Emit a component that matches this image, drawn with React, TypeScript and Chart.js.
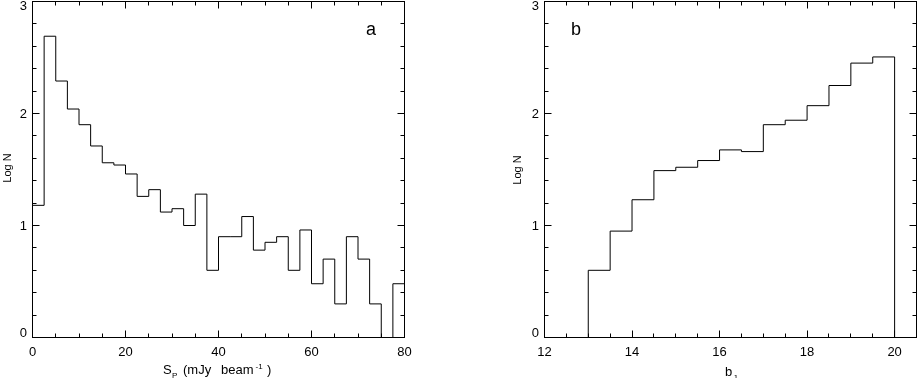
import React, { useEffect, useRef } from 'react';
import { Chart, registerables } from 'chart.js';

Chart.register(...registerables);

const FONT = '"Liberation Sans", Arial, Helvetica, sans-serif';

// Panel a: peak flux histogram (bin edges in mJy/beam, log N per bin)
const fluxBinEdges = [0, 2.5, 5, 7.5, 10, 12.5, 15, 17.5, 20, 22.5, 25, 27.5, 30, 32.5, 35, 37.5, 40, 42.5, 45, 47.5, 50, 52.5, 55, 57.5, 60, 62.5, 65, 67.5, 70, 72.5, 75, 77.5, 80];
const fluxLogN = [1.18, 2.69, 2.29, 2.04, 1.9, 1.71, 1.56, 1.54, 1.46, 1.26, 1.32, 1.12, 1.15, 1.0, 1.28, 0.6, 0.9, 0.9, 1.08, 0.78, 0.85, 0.9, 0.6, 0.96, 0.48, 0.7, 0.3, 0.9, 0.7, 0.3, 0, 0.48];
const fluxMajorTicks = [0, 20, 40, 60, 80];
const fluxMinorStep = 5;

// Panel b: b_J magnitude histogram
const magBinEdges = [13, 13.5, 14, 14.5, 15, 15.5, 16, 16.5, 17, 17.5, 18, 18.5, 19, 19.5, 20];
const magLogN = [0.6, 0.95, 1.23, 1.49, 1.52, 1.58, 1.675, 1.66, 1.9, 1.94, 2.07, 2.25, 2.45, 2.505];
const magMajorTicks = [12, 14, 16, 18, 20];
const magMinorStep = 0.5;

const logNMajorTicks = [0, 1, 2, 3];
const logNMinorStep = 0.2;

type Seg = { t: string; x: number; y: number; size: number };

// points at lower bin edges; with Chart.js stepped 'before' each value runs to the next edge
function stepPoints(edges: number[], vals: number[]) {
  const pts: { x: number; y: number }[] = [{ x: edges[0], y: 0 }];
  vals.forEach((v, i) => pts.push({ x: edges[i], y: v }));
  const last = edges[edges.length - 1];
  pts.push({ x: last, y: vals[vals.length - 1] });
  pts.push({ x: last, y: 0 });
  return pts;
}

type PanelProps = {
  edges: number[];
  vals: number[];
  xMin: number;
  xMax: number;
  majorX: number[];
  minorXStep: number;
  left: number;
  width: number;
  padding: { left: number; right: number; top: number; bottom: number };
  titleSegs: Seg[];
  yTitle: { x: number; y: number };
  letter: Seg;
};

function isMajor(v: number, majors: number[]) {
  return majors.some((m) => Math.abs(m - v) < 1e-6);
}

function crisp(p: number) {
  return Math.round(p - 0.5) + 0.5;
}

function Panel(props: PanelProps) {
  const ref = useRef<HTMLCanvasElement>(null);
  useEffect(() => {
    const canvas = ref.current!;
    const decor = {
      id: 'decor',
      afterDraw(chart: any) {
        const { ctx, chartArea: a, scales } = chart;
        const xs = scales.x;
        const ys = scales.y;
        ctx.save();
        ctx.strokeStyle = '#000';
        ctx.fillStyle = '#000';
        ctx.lineWidth = 1;
        ctx.strokeRect(a.left, a.top, a.right - a.left, a.bottom - a.top);
        const MAJ = 7;
        const MIN = 4;
        const nx = Math.round((props.xMax - props.xMin) / props.minorXStep);
        ctx.beginPath();
        for (let k = 0; k <= nx; k++) {
          const v = props.xMin + k * props.minorXStep;
          const px = crisp(xs.getPixelForValue(v));
          const len = isMajor(v, props.majorX) ? MAJ : MIN;
          ctx.moveTo(px, a.bottom);
          ctx.lineTo(px, a.bottom - len);
          ctx.moveTo(px, a.top);
          ctx.lineTo(px, a.top + len);
        }
        const ny = Math.round(3 / logNMinorStep);
        for (let k = 0; k <= ny; k++) {
          const v = k * logNMinorStep;
          const py = crisp(ys.getPixelForValue(v));
          const len = isMajor(v, logNMajorTicks) ? MAJ : MIN;
          ctx.moveTo(a.left, py);
          ctx.lineTo(a.left + len, py);
          ctx.moveTo(a.right, py);
          ctx.lineTo(a.right - len, py);
        }
        ctx.stroke();

        ctx.font = `13px ${FONT}`;
        ctx.textAlign = 'center';
        ctx.textBaseline = 'alphabetic';
        props.majorX.forEach((v) => {
          ctx.fillText(String(v), xs.getPixelForValue(v), 356);
        });
        ctx.textAlign = 'right';
        logNMajorTicks.forEach((v) => {
          const py = ys.getPixelForValue(v);
          const base = Math.min(Math.max(py + 4.5, a.top + 8.5), a.bottom - 0.5);
          ctx.fillText(String(v), a.left - 5.5, base);
        });

        ctx.textAlign = 'left';
        props.titleSegs.forEach((s) => {
          ctx.font = `${s.size}px ${FONT}`;
          ctx.fillText(s.t, s.x, s.y);
        });

        ctx.save();
        ctx.translate(props.yTitle.x, props.yTitle.y);
        ctx.rotate(-Math.PI / 2);
        ctx.font = `11px ${FONT}`;
        ctx.textAlign = 'center';
        ctx.textBaseline = 'middle';
        ctx.fillText('Log N', 0, 0);
        ctx.restore();

        ctx.font = `${props.letter.size}px ${FONT}`;
        ctx.textAlign = 'left';
        ctx.fillText(props.letter.t, props.letter.x, props.letter.y);
        ctx.restore();
      },
    };
    const chart = new Chart(canvas, {
      type: 'line',
      data: {
        datasets: [
          {
            data: stepPoints(props.edges, props.vals),
            stepped: 'before',
            borderColor: '#000',
            borderWidth: 1,
            pointRadius: 0,
            fill: false,
            tension: 0,
          } as any,
        ],
      },
      options: {
        responsive: false,
        animation: false,
        devicePixelRatio: 1,
        layout: { padding: props.padding },
        plugins: { legend: { display: false }, tooltip: { enabled: false } },
        scales: {
          x: { type: 'linear', min: props.xMin, max: props.xMax, display: false },
          y: { type: 'linear', min: 0, max: 3, display: false },
        },
      },
      plugins: [decor],
    });
    return () => chart.destroy();
  }, []);
  return (
    <canvas
      ref={ref}
      width={props.width}
      height={378}
      style={{ position: 'absolute', left: props.left, top: 0, width: props.width, height: 378 }}
    />
  );
}

export default function App() {
  return (
    <div style={{ position: 'fixed', left: 0, top: 0, width: 917, height: 378, background: '#fff' }}>
      <Panel
        edges={fluxBinEdges}
        vals={fluxLogN}
        xMin={0}
        xMax={80}
        majorX={fluxMajorTicks}
        minorXStep={fluxMinorStep}
        left={0}
        width={458}
        padding={{ left: 32.5, right: 53.5, top: 1.5, bottom: 40.5 }}
        titleSegs={[
          { t: 'S', x: 163, y: 374, size: 13 },
          { t: 'P', x: 172, y: 377.5, size: 8 },
          { t: '(mJy', x: 183, y: 374, size: 13 },
          { t: 'beam', x: 221, y: 374, size: 13 },
          { t: '-1', x: 255.5, y: 369, size: 8 },
          { t: ')', x: 267, y: 374, size: 13 },
        ]}
        yTitle={{ x: 8, y: 168 }}
        letter={{ t: 'a', x: 366, y: 35, size: 18 }}
      />
      <Panel
        edges={magBinEdges}
        vals={magLogN}
        xMin={12}
        xMax={20.5}
        majorX={magMajorTicks}
        minorXStep={magMinorStep}
        left={458}
        width={459}
        padding={{ left: 86.5, right: 0.5, top: 1.5, bottom: 40.5 }}
        titleSegs={[
          { t: 'b', x: 267, y: 376, size: 13 },
          { t: 'J', x: 275, y: 379.5, size: 8 },
        ]}
        yTitle={{ x: 60, y: 170 }}
        letter={{ t: 'b', x: 113, y: 35, size: 18 }}
      />
    </div>
  );
}
